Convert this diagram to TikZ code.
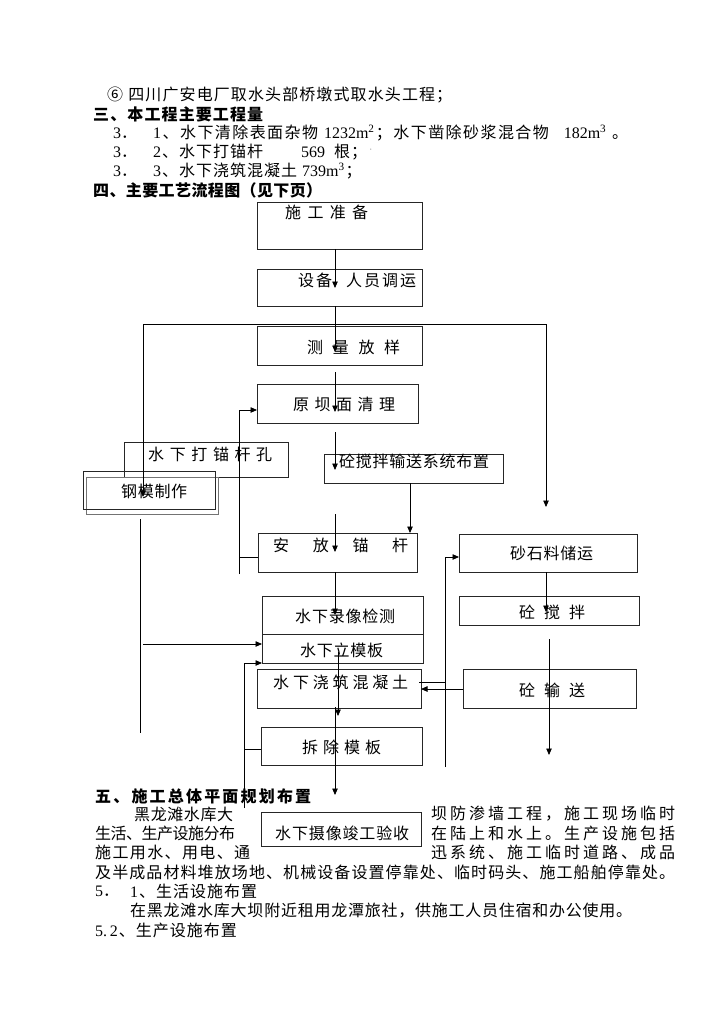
\documentclass[tikz,border=0pt]{standalone}
\usepackage{fontspec}
\setmainfont{Liberation Serif}
\newfontfamily\cjk{Noto Sans CJK SC}
\usetikzlibrary{arrows.meta}
\ExplSyntaxOn
\NewDocumentCommand\jl{m m}
 {
  \makebox[#1][s]{ \tl_map_inline:nn {#2} { {##1} \hskip 0pt plus 1fil minus 1.5pt } \unskip }
 }
\NewDocumentCommand\ks{m m}
 {
  \tl_map_inline:nn {#2} { {##1} \kern #1 } \unkern
 }
\ExplSyntaxOff
\begin{document}
\begin{tikzpicture}[x=1pt,y=-1pt,
  box/.style={draw=black!85, line width=0.8pt, inner sep=0pt, outer sep=0pt},
  txt/.style={inner sep=0pt, anchor=west, font=\cjk\fontsize{16}{19}\selectfont},
  conn/.style={line width=0.8pt, draw=black},
  arr/.style={conn, -{Triangle[length=6.5pt,width=5.5pt]}},
]
\useasboundingbox[fill=white] (0,0) rectangle (724,1024);

% ---------- top text ----------
\node[txt] (t1) at (107,95) {\jl{345pt}{⑥{\kern3pt}四川广安电厂取水头部桥墩式取水头工程；}};
\node[txt] (t2) at (93,114) {\bfseries\jl{170pt}{三、本工程主要工程量}};
\node[txt] (t3a) at (113,133) {{\rmfamily 3}．};
\node[txt] (t3b) at (153,133) {\jl{475pt}{{\rmfamily 1}、水下清除表面杂物{\kern3pt}{\rmfamily 1232m\textsuperscript{2}}；水下凿除砂浆混合物{\kern12pt}{\rmfamily 182m\textsuperscript{3}}{\kern3pt}。}};
\node[txt] (t4a) at (113,152) {{\rmfamily 3}．};
\node[txt] (t4b) at (153,152) {\ks{1pt}{{\rmfamily 2}、水下打锚杆{\kern36pt}{\rmfamily 569}{\kern7pt}根；{\kern1pt}{\raisebox{5pt}{\rmfamily\tiny '}}}};
\node[txt] (t5a) at (113,171) {{\rmfamily 3}．};
\node[txt] (t5b) at (153,171) {\ks{1pt}{{\rmfamily 3}、水下浇筑混凝土{\kern3pt}{\rmfamily 739m\textsuperscript{3}}；}};
\node[txt] (t6) at (93,190) {\bfseries\jl{229pt}{四、主要工艺流程图（见下页）}};

% ---------- boxes ----------
\node[box, minimum width=165pt, minimum height=47pt] (prep)   at (339.5,225.5) {};
\node[box, minimum width=165pt, minimum height=37pt] (equip)  at (339.5,287.5) {};
\node[box, minimum width=165pt, minimum height=39pt] (survey) at (339.5,345.5) {};
\node[box, minimum width=161pt, minimum height=39pt] (clean)  at (337.5,403.5) {};
\node[box, minimum width=164pt, minimum height=35pt] (drill)  at (206,459.5) {};
\node[box, minimum width=179pt, minimum height=29pt] (mixsys) at (413.5,468.5) {};
\node[box, draw=black!55, minimum width=132pt, minimum height=37pt] (steelb) at (152,495.5) {};
\node[box, minimum width=132pt, minimum height=38pt] (steel)  at (149,490) {};
\node[box, minimum width=159pt, minimum height=39pt] (anchor) at (337.5,552.5) {};
\node[box, minimum width=161pt, minimum height=38pt] (video)  at (342.5,615) {};
\node[box, minimum width=161pt, minimum height=29pt] (form)   at (342.5,648.5) {};
\node[box, minimum width=164pt, minimum height=39pt] (pour)   at (339,688.5) {};
\node[box, minimum width=161pt, minimum height=38pt] (remove) at (341.5,746) {};
\node[box, minimum width=178pt, minimum height=38pt] (sand)   at (548,553) {};
\node[box, minimum width=180pt, minimum height=29pt] (mix)    at (549,610.5) {};
\node[box, minimum width=173pt, minimum height=39pt] (conv)   at (549.5,688.5) {};

% ---------- box labels ----------
\node[txt] (lprep)   at (285,212) {\jl{83pt}{施工准备}};
\node[txt] (lequip)  at (298,280) {\jl{118pt}{设备{\kern10pt}人员调运}};
\node[txt] (lsurvey) at (307,347) {\jl{93pt}{测量放样}};
\node[txt] (lclean)  at (293,404) {\jl{102pt}{原坝面清理}};
\node[txt] (ldrill)  at (148,454) {\jl{124pt}{水下打锚杆孔}};
\node[txt] (lmixsys) at (339,461) {\jl{150pt}{砼搅拌输送系统布置}};
\node[txt] (lsteel)  at (121,491) {\jl{66pt}{钢模制作}};
\node[txt] (lanchor) at (273,545) {\jl{135pt}{安放锚杆}};
\node[txt] (lvideo)  at (295,616) {\jl{100pt}{水下录像检测}};
\node[txt] (lform)   at (300,650) {\jl{83pt}{水下立模板}};
\node[txt] (lpour)   at (273,682) {\jl{135pt}{水下浇筑混凝土}};
\node[txt] (lremove) at (302,747) {\jl{79pt}{拆除模板}};
\node[txt] (lsand)   at (510,553) {\jl{83pt}{砂石料储运}};
\node[txt] (lmix)    at (519,612) {\jl{66pt}{砼搅拌}};
\node[txt] (lconv)   at (519,690) {\jl{66pt}{砼输送}};

% ---------- bottom text ----------
\node[txt] (h5) at (95,796) {\bfseries\jl{216pt}{五、施工总体平面规划布置}};
\node[txt] (l2a) at (134,814) {\jl{99pt}{黑龙滩水库大}};
\node[txt] (l2b) at (431,814) {\jl{244pt}{坝防渗墙工程，施工现场临时}};
\node[txt] (l3a) at (95,833) {\jl{140pt}{生活、生产设施分布}};
\node[txt] (l3b) at (431,833) {\jl{244pt}{在陆上和水上。生产设施包括}};
\node[txt] (l4a) at (95,852) {\jl{155pt}{施工用水、用电、通}};
\node[txt] (l4b) at (431,852) {\jl{244pt}{迅系统、施工临时道路、成品}};
\node[txt] (l5)  at (95,872) {\jl{580pt}{及半成品材料堆放场地、机械设备设置停靠处、临时码头、施工船舶停靠处。}};
\node[txt] (l6a) at (95,891) {{\rmfamily 5}．};
\node[txt] (l6b) at (130,891) {\ks{1pt}{{\rmfamily 1}、生活设施布置}};
\node[txt] (l7)  at (130,911) {\jl{502pt}{在黑龙滩水库大坝附近租用龙潭旅社，供施工人员住宿和办公使用。}};
\node[txt] (l8)  at (95,930) {\ks{1pt}{{\rmfamily 5.\,2}、生产设施布置}};

% ---------- coordinates ----------
\coordinate (tipA) at (335,288);
\coordinate (jtop) at (335,324);
\coordinate (tipB) at (335,352);
\coordinate (topL) at (143,324);
\coordinate (topR) at (546,324);
\coordinate (tipC) at (143,497);
\coordinate (tipD) at (546,507);
\coordinate (cS) at (335,372);
\coordinate (tipE) at (335,412);
\coordinate (dS) at (335,432);
\coordinate (tipF) at (335,470);
\coordinate (vb) at (239,574);
\coordinate (vs) at (239,557);
\coordinate (hS) at (335,514);
\coordinate (tipH) at (335,552);
\coordinate (tipI) at (335,615);
\coordinate (lv1) at (140,519);
\coordinate (lv2) at (140,733);
\coordinate (lh) at (143,644);
\coordinate (mv) at (244,808);
\coordinate (ms) at (244,749);
\coordinate (p1) at (338,652);
\coordinate (p2) at (338,716);
\coordinate (q1) at (335,707);
\coordinate (q2) at (335,795);
\coordinate (rv) at (445,767);
\coordinate (rs) at (419,682);
\coordinate (rj) at (445,682);
\coordinate (tipM) at (546,612);
\coordinate (c1) at (549,639);
\coordinate (c2) at (549,755);

% ---------- connectors ----------
\draw[arr] (335,0 |- prep.south) -- (tipA);
\draw[conn] (335,0 |- equip.south) -- (jtop);
\draw[arr] (jtop) -- (tipB);
\draw[conn] (topL) -- (topR);
\draw[arr] (topL) -- (tipC);
\draw[arr] (topR) -- (tipD);
\draw[arr] (cS) -- (tipE);
\draw[arr] (dS) -- (tipF);
\draw[arr] (vb) |- (0,410 -| clean.west);
\draw[conn] (vs) -- (0,557 -| anchor.west);
\draw[arr] (410,0 |- mixsys.south) -- (410,0 |- anchor.north);
\draw[arr] (hS) -- (tipH);
\draw[arr] (335,0 |- anchor.south) -- (tipI);
\draw[conn] (lv1) -- (lv2);
\draw[arr] (lh) -- (0,644 -| form.west);
\draw[arr] (mv) |- (form.south west);
\draw[conn] (ms) -- (0,749 -| remove.west);
\draw[arr] (p1) -- (p2);
\draw[arr] (q1) -- (q2);
\draw[arr] (rv) |- (0,557 -| sand.west);
\draw[conn] (rs) -- (rj);
\draw[arr] (0,689 -| conv.west) -- (0,689 -| pour.east);
\draw[arr] (546,0 |- sand.south) -- (tipM);
\draw[arr] (c1) -- (c2);

% accept box on top
\node[box, fill=white, minimum width=160pt, minimum height=34pt] (accept) at (341,829) {};
\node[txt] (laccept) at (275,833) {\jl{134pt}{水下摄像竣工验收}};
\end{tikzpicture}
\end{document}
